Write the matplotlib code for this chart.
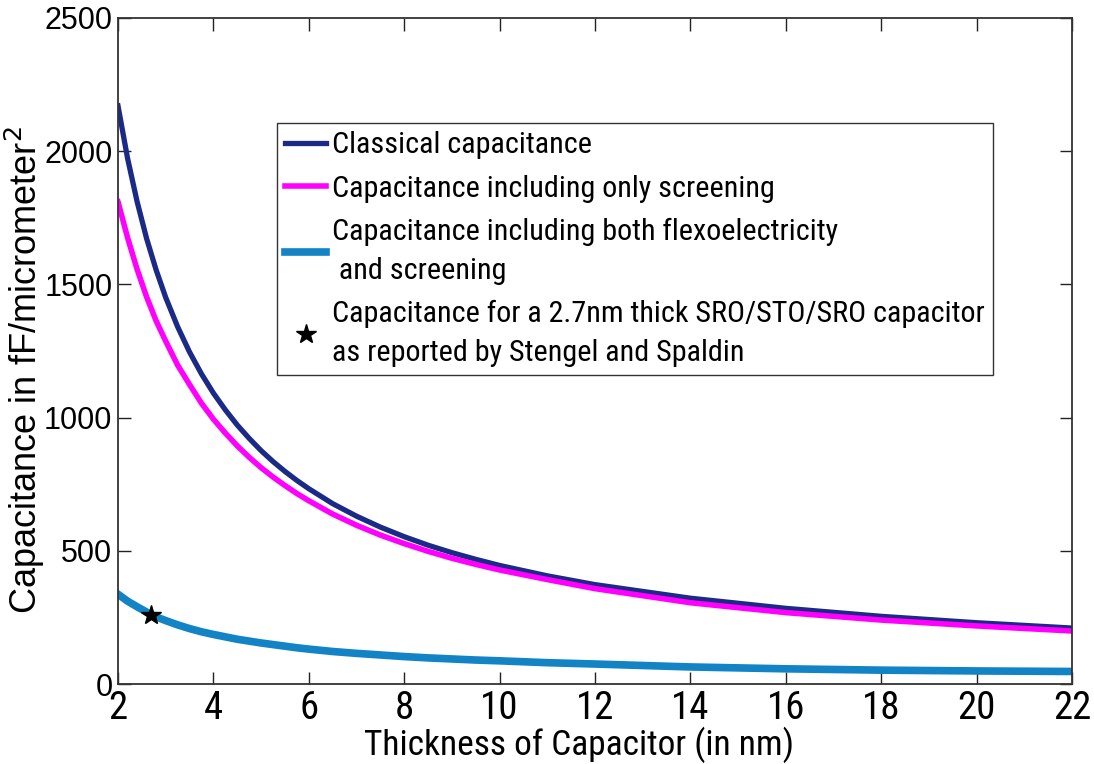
import matplotlib
matplotlib.use("Agg")
import matplotlib.pyplot as plt
from matplotlib import font_manager
from matplotlib.font_manager import FontProperties

# ---- data ----
thickness = [2, 2.2, 2.4, 2.6, 2.8, 3, 3.25, 3.5, 3.75, 4, 4.25, 4.5, 4.75, 5, 5.25, 5.5,
             5.75, 6, 6.5, 7, 7.5, 8, 8.5, 9, 9.5, 10, 11, 12, 14, 16, 18, 20, 22]
classical = [2170, 1974, 1811, 1672, 1554, 1451, 1341, 1246, 1164, 1092, 1029, 972, 922, 876,
             835, 798, 764, 733, 677, 630, 589, 553, 521, 493, 468, 445, 406, 373, 322, 284,
             254, 230, 210]
screening = [1810, 1676, 1557, 1453, 1363, 1287, 1197, 1124, 1054, 994, 942, 894, 851, 812,
             777, 745, 715, 688, 638, 596, 559, 527, 498, 472, 449, 428, 392, 358, 305, 268,
             240, 218, 199]
flexo = [337, 311, 290, 270, 252, 238, 222, 208, 196, 186, 177, 168, 161, 154, 148, 142,
         136, 131, 122, 115, 109, 103, 98, 94, 90, 87, 80, 75, 64, 57, 52, 49, 47]
star_x = [2.7]
star_y = [258]

labels = ["Classical capacitance",
          "Capacitance including only screening",
          "Capacitance including both flexoelectricity\n and screening",
          "Capacitance for a 2.7nm thick SRO/STO/SRO capacitor\nas reported by Stengel and Spaldin"]
xticks = [2, 4, 6, 8, 10, 12, 14, 16, 18, 20, 22]
yticks = [0, 500, 1000, 1500, 2000, 2500]

# look for a condensed sans face (the reference uses a narrow Helvetica-like font)
narrow_file = None
prefs = ["liberationsansnarrow-regular", "robotocondensed-regular", "opensanscondensed",
         "dejavusanscondensed.ttf"]
files = [f.fname for f in font_manager.fontManager.ttflist]
for p in prefs:
    for fn in files:
        if p in fn.lower().replace("_", "").replace(" ", ""):
            narrow_file = fn
            break
    if narrow_file:
        break

def nfont(size):
    if narrow_file:
        return FontProperties(fname=narrow_file, size=size)
    return FontProperties(family="Liberation Sans", size=size * 0.85)

fig = plt.figure(figsize=(10.94, 7.64), dpi=100)
ax = fig.add_axes([118/1094, 80/764, (1072-118)/1094, (684-18)/764])

l1, = ax.plot(thickness, classical, color="#1b2a86", lw=3.8)
l2, = ax.plot(thickness, screening, color="#ff00ff", lw=4.0)
l3, = ax.plot(thickness, flexo, color="#1284c6", lw=5.5)
l4, = ax.plot(star_x, star_y, linestyle="none", marker="*", color="black", markersize=15)

ax.set_xlim(2, 22)
ax.set_ylim(0, 2500)
ax.set_xticks(xticks)
ax.set_yticks(yticks)
ax.set_xticklabels([str(t) for t in xticks], fontproperties=nfont(28))
ax.set_yticklabels([str(t) for t in yticks], family="Liberation Sans", fontsize=22)
ax.tick_params(direction="in", length=9, width=1.0, top=True, right=True, pad=4,
               colors="#222222", labelcolor="black")
for s in ax.spines.values():
    s.set_linewidth(1.3)
    s.set_color("#333333")

ax.set_xlabel("Thickness of Capacitor (in nm)", fontproperties=nfont(25.5))
ax.xaxis.set_label_coords(((385 + 773) / 2 - 118) / 954, (684 - 727) / 666)
ax.set_ylabel("Capacitance in fF/micrometer$^2$", family="Liberation Sans", fontsize=26)
ax.yaxis.set_label_coords((47 - 118) / 954, (684 - 370) / 666)

leg = ax.legend([l1, l2, l3, l4], labels, loc="upper left",
                bbox_to_anchor=((277-118)/954, (684-123)/666),
                prop=nfont(21.7),
                frameon=True, fancybox=False, edgecolor="black",
                handlelength=1.35, handletextpad=0.2, borderpad=0.28,
                labelspacing=0.5, borderaxespad=0.0)
for t in leg.get_texts():
    t.set_linespacing(1.5)
leg.get_frame().set_linewidth(1.0)

fig.savefig("out.png", dpi=100)
